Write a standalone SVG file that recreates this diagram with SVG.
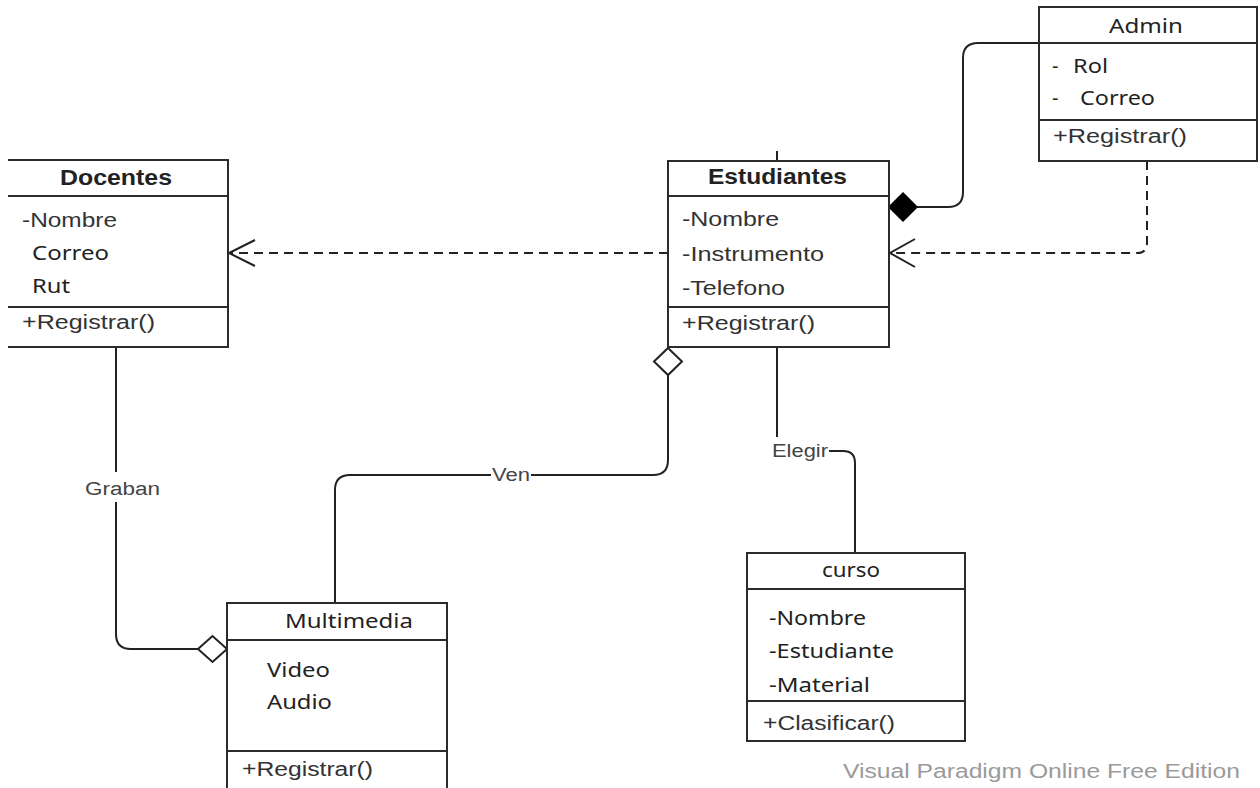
<svg xmlns="http://www.w3.org/2000/svg" width="1260" height="788" viewBox="0 0 1260 788">
<defs>
<style>
.box{fill:#fff;stroke:#2b2b2b;stroke-width:2}
.sep{stroke:#2b2b2b;stroke-width:2;fill:none}
.a{font-family:"Liberation Sans",Arial,sans-serif;font-size:20px;fill:#333}
.u{font-family:"Noto Sans","Open Sans",sans-serif;font-size:20px;fill:#222}
.h{font-family:"Liberation Sans",Arial,sans-serif;font-size:22px;font-weight:bold;fill:#222}
.lbl{font-family:"Liberation Sans",Arial,sans-serif;font-size:18px;fill:#444}
.wm{font-family:"Liberation Sans",Arial,sans-serif;font-size:20px;fill:#9a9a9a}
.conn{stroke:#222;stroke-width:2;fill:none}
.dash{stroke-dasharray:9 6}
.dfill{fill:#000;stroke:#000;stroke-width:1.5}
.ofill{fill:#fff;stroke:#222;stroke-width:2}
</style>
</defs>
<rect x="0" y="0" width="1260" height="788" fill="#fff"/>

<g id="connectors">
  <!-- Admin composition to Estudiantes -->
  <path class="conn" d="M1039,43 H978 Q963,43 963,58 V192 Q963,207 948,207 H917"/>
  <polygon class="dfill" points="889,207 903,193 917,207 903,221"/>
  <!-- Admin dependency to Estudiantes -->
  <path class="conn dash" d="M1147,161 V243 Q1147,253 1137,253 H891"/>
  <polyline class="conn" points="915,239 890,253 915,267"/>
  <!-- Estudiantes dependency to Docentes -->
  <path class="conn dash" d="M668,253 H230"/>
  <polyline class="conn" points="255,240 229,253 255,266"/>
  <!-- Graban -->
  <path class="conn" d="M116,347 V472 M116,502 V634 Q116,649 131,649 H198"/>
  <polygon class="ofill" points="198,649 212.5,636 227,649 212.5,662"/>
  <!-- Ven -->
  <path class="conn" d="M668,375 V460 Q668,475 653,475 H531 M491,475 H350 Q335,475 335,490 V603"/>
  <polygon class="ofill" points="668,348 682,361.5 668,375 654,361.5"/>
  <!-- Elegir -->
  <path class="conn" d="M777,347 V437 M829,451 H843 Q855,451 855,463 V553"/>
  <path class="conn" d="M777,151 V161"/>
  <text class="lbl" x="85" y="495" textLength="75" lengthAdjust="spacingAndGlyphs">Graban</text>
  <text class="lbl" x="492" y="481" textLength="38" lengthAdjust="spacingAndGlyphs">Ven</text>
  <text class="lbl" x="772" y="457" textLength="56" lengthAdjust="spacingAndGlyphs">Elegir</text>
</g>

<g id="admin">
  <rect class="box" x="1039" y="7" width="218" height="154"/>
  <path class="sep" d="M1039,43 H1257 M1039,120 H1257"/>
  <text class="u" x="1109" y="33" textLength="74" lengthAdjust="spacingAndGlyphs">Admin</text>
  <text class="u" y="73"><tspan x="1052">-</tspan><tspan x="1073" textLength="35" lengthAdjust="spacingAndGlyphs">Rol</tspan></text>
  <text class="u" y="105"><tspan x="1052">-</tspan><tspan x="1080" textLength="75" lengthAdjust="spacingAndGlyphs">Correo</tspan></text>
  <text class="a" x="1053" y="143" textLength="134" lengthAdjust="spacingAndGlyphs">+Registrar()</text>
</g>

<g id="estudiantes">
  <rect class="box" x="668" y="161" width="221" height="186"/>
  <path class="sep" d="M668,196 H889 M668,307 H889"/>
  <text class="h" x="708" y="184" textLength="139" lengthAdjust="spacingAndGlyphs">Estudiantes</text>
  <text class="a" x="682" y="226" textLength="97" lengthAdjust="spacingAndGlyphs">-Nombre</text>
  <text class="a" x="682" y="261" textLength="142" lengthAdjust="spacingAndGlyphs">-Instrumento</text>
  <text class="a" x="682" y="295" textLength="103" lengthAdjust="spacingAndGlyphs">-Telefono</text>
  <text class="a" x="682" y="330" textLength="133" lengthAdjust="spacingAndGlyphs">+Registrar()</text>
</g>

<g id="docentes">
  <rect x="8" y="160" width="220" height="187" fill="#fff"/>
  <path class="sep" d="M8,160 H228 V347 H8 M8,196 H228 M8,307 H228"/>
  <text class="h" x="60" y="185" textLength="112" lengthAdjust="spacingAndGlyphs">Docentes</text>
  <text class="a" x="22" y="227" textLength="95" lengthAdjust="spacingAndGlyphs">-Nombre</text>
  <text class="u" x="32" y="260" textLength="77" lengthAdjust="spacingAndGlyphs">Correo</text>
  <text class="u" x="32" y="293" textLength="38" lengthAdjust="spacingAndGlyphs">Rut</text>
  <text class="a" x="22" y="329" textLength="133" lengthAdjust="spacingAndGlyphs">+Registrar()</text>
</g>

<g id="multimedia">
  <rect class="box" x="227" y="603" width="220" height="200"/>
  <path class="sep" d="M227,640 H447 M227,751 H447"/>
  <text class="u" x="285" y="628" textLength="128" lengthAdjust="spacingAndGlyphs">Multimedia</text>
  <text class="u" x="267" y="677" textLength="63" lengthAdjust="spacingAndGlyphs">Video</text>
  <text class="u" x="267" y="709" textLength="65" lengthAdjust="spacingAndGlyphs">Audio</text>
  <text class="a" x="242" y="776" textLength="131" lengthAdjust="spacingAndGlyphs">+Registrar()</text>
</g>

<g id="curso">
  <rect class="box" x="747" y="553" width="218" height="188"/>
  <path class="sep" d="M747,589 H965 M747,701 H965"/>
  <text class="u" x="822" y="577" textLength="58" lengthAdjust="spacingAndGlyphs">curso</text>
  <text class="u" x="769" y="625" textLength="97" lengthAdjust="spacingAndGlyphs">-Nombre</text>
  <text class="u" x="769" y="658" textLength="125" lengthAdjust="spacingAndGlyphs">-Estudiante</text>
  <text class="u" x="769" y="692" textLength="101" lengthAdjust="spacingAndGlyphs">-Material</text>
  <text class="a" x="763" y="730" textLength="132" lengthAdjust="spacingAndGlyphs">+Clasificar()</text>
</g>

<text class="wm" x="843" y="778" textLength="397" lengthAdjust="spacingAndGlyphs">Visual Paradigm Online Free Edition</text>
</svg>
